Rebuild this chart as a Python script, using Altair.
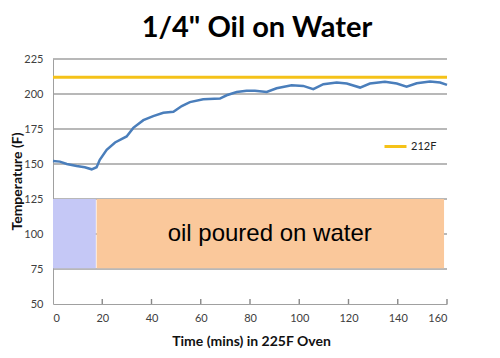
import altair as alt
import pandas as pd

# Temperature readings (minutes, degrees F)
minutes = [0, 2.8, 5.6, 9.6, 12.9, 15.7, 17.7, 19, 21.8, 25.2, 29.9, 32.6, 36.7, 40.7,
           44.8, 48.9, 52.3, 55.6, 61, 67.8, 70.5, 74.6, 78.6, 82, 86.8, 90.8, 96.9,
           101.6, 105.7, 109.8, 115.2, 119.3, 124.7, 128.7, 134.8, 139.6, 143.6, 147.7,
           153.1, 157.2, 160]
temps = [152.2, 151.7, 150, 148.6, 147.7, 146.2, 147.7, 153, 160.2, 165.4, 169.7, 175.8,
         181.3, 184.2, 186.6, 187.3, 191.4, 194.2, 196.2, 196.7, 199.1, 201.4, 202.4,
         202.4, 201.4, 204.1, 206.3, 205.8, 203.4, 207, 208.2, 207.5, 204.6, 207.5,
         208.7, 207.5, 205.3, 207.7, 208.9, 208.2, 206.5]

boil_label = ["212F"]
boil_value = [212]

band_start = [0, 17.7]
band_end = [17.4, 158.8]
band_low = [75.5, 75.5]
band_high = [125, 125]
band_color = ["#C5C8F6", "#FAC89B"]

note_text = ["oil poured on water"]
note_x = [88]
note_y = [100]

x_ticks = [0, 20, 40, 60, 80, 100, 120, 140, 160]
y_ticks = [50, 75, 100, 125, 150, 175, 200, 225]

line_df = pd.DataFrame({"t": minutes, "temp": temps})
band_df = pd.DataFrame({"x": band_start, "x2": band_end, "y": band_low, "y2": band_high, "c": band_color})
note_df = pd.DataFrame({"x": note_x, "y": note_y, "label": note_text})
boil_df = pd.DataFrame({"series": boil_label, "y": boil_value})
tick_df = pd.DataFrame({"tx": x_ticks[1:]})
grid_df = pd.DataFrame({"gy": y_ticks[1:]})

xs = alt.Scale(domain=[0, 160], nice=False)
ys = alt.Scale(domain=[50, 225], nice=False)

xaxis = alt.Axis(values=x_ticks, grid=False, ticks=False, labelPadding=8, labelOverlap=False,
                 title="Time (mins) in 225F Oven", titleFontSize=14, titleFontWeight="bold",
                 titleFont="Lato", titleColor="#111111", titleX=198, titleY=37,
                 titleBaseline="middle", domainColor="#A0A0A0")
yaxis = alt.Axis(values=y_ticks, grid=False, ticks=False, labelPadding=10,
                 labelOverlap=False,
                 title="Temperature (F)", titleFontSize=14, titleFontWeight="bold",
                 titleFont="Lato", titleColor="#111111", titleX=-36, titleY=122,
                 titleBaseline="middle", titleAngle=-90, titleAlign="center",
                 domainColor="#A0A0A0")


def X(field):
    return alt.X(field, scale=xs, axis=xaxis)


def Y(field):
    return alt.Y(field, scale=ys, axis=yaxis)


grid = alt.Chart(grid_df).mark_rule(color="#A0A0A0", strokeWidth=1.4).encode(
    y=Y("gy:Q"),
)

bands = alt.Chart(band_df).mark_rect().encode(
    x=X("x:Q"), x2="x2", y=Y("y:Q"), y2="y2",
    color=alt.Color("c:N", scale=None),
)

ticks = alt.Chart(tick_df).mark_rule(color="#888888", strokeWidth=1.4).encode(
    x=X("tx:Q"), y=alt.value(240), y2=alt.value(245),
)

note = alt.Chart(note_df).mark_text(font="Liberation Sans", fontSize=24, color="#000000",
                                    baseline="middle").encode(
    x=X("x:Q"), y=Y("y:Q"), text="label:N",
)

boil = alt.Chart(boil_df).mark_rule(strokeWidth=3).encode(
    y=Y("y:Q"),
    color=alt.Color("series:N", scale=alt.Scale(range=["#F5C218"]),
                    legend=alt.Legend(orient="none", legendX=330, legendY=75, title=None,
                                      symbolType="stroke", symbolSize=484,
                                      symbolStrokeWidth=3, labelFontSize=11,
                                      labelFont="Lato", labelColor="#222222",
                                      labelOffset=3)),
)

line = alt.Chart(line_df).mark_line(color="#4A7EBB", strokeWidth=2.5).encode(
    x=X("t:Q"), y=Y("temp:Q"),
)

chart = alt.layer(grid, bands, ticks, note, boil, line).properties(
    width=394, height=245,
    title=alt.TitleParams("1/4\" Oil on Water", fontSize=29, font="Lato", fontWeight="bold",
                          color="#000000", anchor="middle", dx=7, offset=10),
    padding={"left": 45, "top": 51, "right": 45, "bottom": 54},
    autosize=alt.AutoSizeParams(type="none"),
).configure_view(stroke=None).configure_axis(
    labelFont="Lato", labelFontSize=11, labelColor="#404040",
)

chart.save("out.html", embed_options={"renderer": "svg", "actions": False})
